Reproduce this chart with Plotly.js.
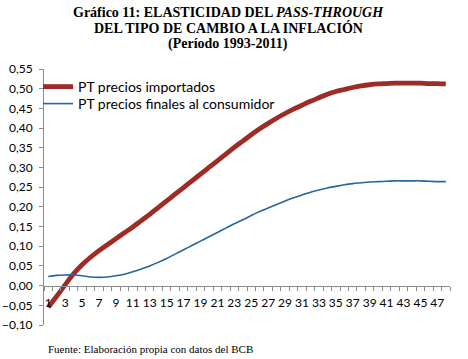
<!DOCTYPE html>
<html>
<head>
<meta charset="utf-8">
<script src="https://cdn.plot.ly/plotly-3.0.1.min.js"></script>
<style>html,body{margin:0;padding:0;background:#fff;}#chart{width:468px;height:359px;}</style>
</head>
<body>
<div id="chart"></div>
<script>
const periods = Array.from({length: 48}, (_, i) => i + 1);
const seriesNames = ["PT precios importados", "PT precios finales al consumidor"];
const ptImportados = [
  -0.055, -0.027, 0.002, 0.030, 0.053, 0.072, 0.089, 0.104, 0.119, 0.134,
  0.149, 0.165, 0.181, 0.198, 0.215, 0.232, 0.249, 0.266, 0.283, 0.300,
  0.317, 0.334, 0.351, 0.367, 0.383, 0.398, 0.412, 0.425, 0.437, 0.448,
  0.458, 0.468, 0.477, 0.486, 0.493, 0.498, 0.503, 0.507, 0.510, 0.512,
  0.513, 0.514, 0.514, 0.514, 0.514, 0.513, 0.513, 0.512
];
const ptConsumidor = [
  0.023, 0.026, 0.027, 0.027, 0.025, 0.022, 0.021, 0.022, 0.025, 0.029,
  0.035, 0.042, 0.050, 0.059, 0.069, 0.080, 0.091, 0.102, 0.113, 0.124,
  0.135, 0.146, 0.157, 0.167, 0.178, 0.188, 0.197, 0.206, 0.215, 0.223,
  0.230, 0.237, 0.243, 0.248, 0.252, 0.256, 0.259, 0.261, 0.263, 0.264,
  0.265, 0.266, 0.266, 0.266, 0.266, 0.265, 0.264, 0.264
];
const xTickVals = periods.filter(p => p % 2 === 1);
const xTickText = xTickVals.map(String);
const boundaryVals = [0].concat(periods).map(p => p + 0.5);
const yMin = -0.10, yMax = 0.55;
const titleLines = [
  "<b>Gráfico 11: ELASTICIDAD DEL <i>PASS-THROUGH</i></b>",
  "<b>DEL TIPO DE CAMBIO A LA INFLACIÓN</b>",
  "<b>(Período 1993-2011)</b>"
];
const sourceText = "Fuente: Elaboración propia con datos del BCB";

const W = 468, H = 359, mL = 44, mR = 18, mT = 69, mB = 34;
const pw = W - mL - mR, ph = H - mT - mB;
const px2x = px => (px - mL) / pw;
const py2y = py => (H - mB - py) / ph;

const axisPos = (0 - yMin) / (yMax - yMin);
const sans = "Lato, Open Sans, sans-serif";
const serif = "Liberation Serif, serif";

const traces = [
  {x: periods, y: ptImportados, name: seriesNames[0], type: 'scatter', mode: 'lines',
   line: {color: '#9E2B25', width: 4.8, shape: 'spline'}, xaxis: 'x', yaxis: 'y', legend: 'legend'},
  {x: periods, y: ptConsumidor, name: seriesNames[1], type: 'scatter', mode: 'lines',
   line: {color: '#24679E', width: 1.6, shape: 'spline'}, xaxis: 'x', yaxis: 'y', legend: 'legend2'},
  {x: [1], y: [null], xaxis: 'x2', yaxis: 'y', showlegend: false, hoverinfo: 'skip', mode: 'lines'}
];

const annotations = [
  {text: titleLines[0], x: px2x(228), y: py2y(12)},
  {text: titleLines[1], x: px2x(228), y: py2y(28)},
  {text: titleLines[2], x: px2x(228), y: py2y(44)}
].map(a => Object.assign(a, {xref: 'paper', yref: 'paper', showarrow: false,
  xanchor: 'center', yanchor: 'middle', font: {family: serif, size: 14, color: '#000'}}));
annotations.push({text: sourceText, xref: 'paper', yref: 'paper', x: px2x(46), y: py2y(349),
  xanchor: 'left', yanchor: 'middle', showarrow: false, font: {family: serif, size: 11, color: '#000'}});

const legendBase = {xanchor: 'left', yanchor: 'middle', bgcolor: 'rgba(0,0,0,0)',
  font: {family: sans, size: 14, color: '#000'}, borderwidth: 0};

const layout = {
  width: W, height: H,
  margin: {l: mL, r: mR, t: mT, b: mB},
  paper_bgcolor: '#fff', plot_bgcolor: '#fff',
  separators: ',.',
  showlegend: true,
  legend: Object.assign({x: px2x(38), y: py2y(87)}, legendBase),
  legend2: Object.assign({x: px2x(38), y: py2y(104)}, legendBase),
  xaxis: {range: [0.5, 48.5], anchor: 'free', position: axisPos, tickmode: 'array',
    tickvals: xTickVals, ticktext: xTickText, ticks: '', showline: true, linecolor: '#8C8C8C', linewidth: 1,
    showgrid: false, zeroline: false, tickfont: {family: sans, size: 12, color: '#000'}, ticklabelstandoff: 6,
    automargin: false},
  xaxis2: {range: [0.5, 48.5], overlaying: 'x', anchor: 'free', position: axisPos, tickmode: 'array',
    tickvals: boundaryVals, ticks: 'outside', ticklen: 4, tickcolor: '#8C8C8C', showticklabels: false,
    showline: false, showgrid: false, zeroline: false, automargin: false},
  yaxis: {range: [yMin, yMax], dtick: 0.05, tick0: 0, tickformat: '.2f', ticks: 'outside', ticklen: 4,
    tickcolor: '#8C8C8C', showline: true, linecolor: '#8C8C8C', linewidth: 1, showgrid: false, zeroline: false,
    tickfont: {family: sans, size: 12, color: '#000'}, ticklabelstandoff: 4, automargin: false},
  annotations: annotations
};

Plotly.newPlot('chart', traces, layout, {displayModeBar: false, staticPlot: true});
</script>
</body>
</html>
